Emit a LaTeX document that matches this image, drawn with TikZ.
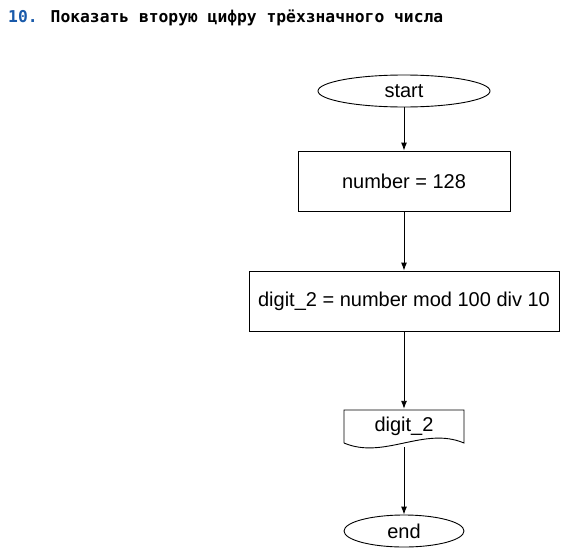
\documentclass[tikz,border=0pt]{standalone}
\usepackage{fontspec}
\setmainfont{Liberation Sans}
\newfontfamily\titlefont{DejaVu Sans Mono}
\usetikzlibrary{shapes.geometric,arrows.meta}

\definecolor{numblue}{RGB}{25,90,170}

\tikzset{
  block/.style={draw, line width=0.9pt, minimum width=212pt, minimum height=60pt, inner sep=0pt},
  term/.style={draw, ellipse, line width=0.9pt, inner sep=0pt},
  flow/.style={-{Latex[length=8pt,width=6pt]}, line width=0.9pt},
  lbl/.style={font=\fontsize{20}{24}\selectfont}
}

\begin{document}
\begin{tikzpicture}[x=1pt, y=-1pt]
  \useasboundingbox (0,0) rectangle (561,551);

  % title
  \node[anchor=base west, inner sep=0pt, font=\titlefont\bfseries\fontsize{16.3}{20}\selectfont]
    (title) at (8,22.5) {\textcolor{numblue}{10.} Показать вторую цифру трёхзначного числа};

  % start
  \node[term, lbl, minimum width=172pt, minimum height=32pt] (start) at (404,91) {start};

  % number = 128
  \node[block, lbl] (init) at (404,181) {number = 128};

  % digit_2
  \node[block, lbl, minimum width=310pt] (calc) at (404,301) {digit\_2 = number mod 100 div 10};

  % output (document)
  \node[lbl, inner sep=0pt, minimum width=120pt, minimum height=34pt] (out) at (404,426) {digit\_2};
  \draw[line width=0.9pt] (344,443) -- (344,410) -- (464,410) -- (464,443)
    .. controls (424,426) and (384,460) .. (344,443);
  \coordinate (outb) at (404,447);

  % end
  \node[term, lbl, minimum width=120pt, minimum height=32pt] (end) at (404,531) {end};

  % arrows
  \draw[flow] (start) -- (init);
  \draw[flow] (init) -- (calc);
  \draw[flow] (calc) -- (out.north);
  \draw[flow] (outb) -- (end);
\end{tikzpicture}
\end{document}
